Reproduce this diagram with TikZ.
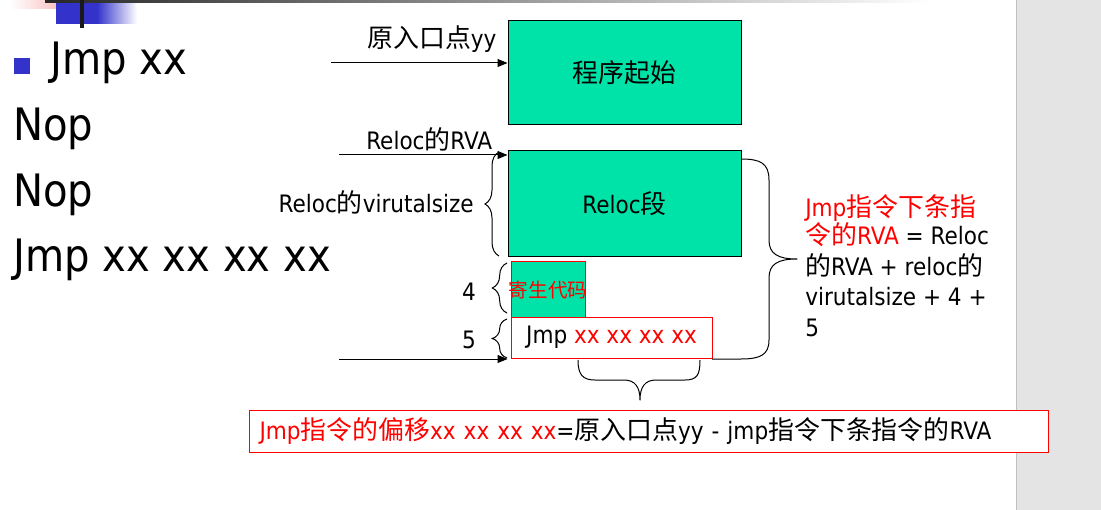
\documentclass[tikz,border=0pt]{standalone}
\usepackage{fontspec}
\setmainfont{DejaVu Sans Condensed}
\newfontfamily\cjk[Scale=1.08]{Noto Sans CJK SC}
\newcommand\zh[1]{{\cjk #1}}
\usetikzlibrary{arrows.meta,decorations.pathreplacing}
\definecolor{boxgreen}{RGB}{0,227,168}
\definecolor{bulletblue}{RGB}{51,51,204}
\definecolor{stripgray}{RGB}{228,228,228}
\definecolor{stripline}{RGB}{192,192,192}
\definecolor{pinkish}{RGB}{248,176,176}
\tikzset{
 txt/.style={inner sep=0pt, anchor=base west, font=\fontsize{18}{22}\selectfont},
 big/.style={inner sep=0pt, anchor=base west, font=\fontsize{33.5}{40}\selectfont},
 gbox/.style={draw=black, fill=boxgreen, line width=0.75pt, inner sep=0pt, font=\fontsize{18}{22}\selectfont},
 rbox/.style={draw=red, line width=0.75pt, inner sep=0pt, font=\fontsize{18}{22}\selectfont},
 arr/.style={line width=0.75pt, -{Triangle[length=7.5pt,width=6pt]}},
 lbrace/.style={decorate, decoration={brace, amplitude=#1}, line width=0.75pt},
 curly/.style={line width=0.75pt, line join=round},
}
\begin{document}
\begin{tikzpicture}[x=0.75pt,y=-0.75pt]
\useasboundingbox (0,0) rectangle (1101,510);
% background decorations
\fill[stripgray] (1016,0) rectangle (1101,510);
\draw[stripline, line width=1.2pt] (1016.5,0) -- (1016.5,510);
\shade[left color=white, right color=pinkish] (10,0) rectangle (72,9);
\fill[bulletblue] (56,2) rectangle (97,24);
\shade[left color=bulletblue, right color=white] (97,2) rectangle (137,24);
\shade[left color=black!85, right color=white] (45,0) rectangle (930,3);
\fill[black!90] (80,0) rectangle (84,28);

% left column
\fill[bulletblue] (14,58) rectangle (30,74);
\node[big] (l1) at (50,75) {Jmp xx};
\node[big] (l2) at (13,141) {Nop};
\node[big] (l3) at (13,206) {Nop};
\node[big] (l4) at (13,271) {Jmp xx xx xx xx};

% boxes
\node[gbox, minimum width=174.75pt, minimum height=78pt] (start) at (624.5,73) {\zh{程序起始}};
\node[gbox, minimum width=174.75pt, minimum height=78.75pt] (reloc) at (624.5,203.5) {Reloc\zh{段}};
\node[rbox, fill=boxgreen, minimum width=55.5pt, minimum height=42pt] (para) at (548,289) {};
\node[inner sep=0pt, text=red, font=\fontsize{13.6}{17}\selectfont] (paratext) at (548,290) {\zh{寄生代码}};
\node[rbox, fill=white, minimum width=150.75pt, minimum height=30.75pt] (jmp) at (611.5,337.5) {Jmp \textcolor{red}{xx xx xx xx}};
\node[rbox, fill=white, anchor=west, text width=584.25pt, inner xsep=7.5pt, minimum height=31.5pt, align=left] (formula) at (249,431)
  {\textcolor{red}{Jmp\zh{指令的偏移}xx xx xx xx}=\zh{原入口点}yy - jmp\zh{指令下条指令的}RVA};

% arrows
\coordinate (e1) at (331,63);
\draw[arr] (e1) -- (e1 -| start.west);
\coordinate (e2) at (339,155);
\draw[arr] (e2) -- (e2 -| reloc.west);
\coordinate (e3) at (339,359);
\draw[arr] (e3) -- (e3 -| reloc.west);

% labels
\node[txt] (lblentry) at (367,48) {\zh{原入口点}yy};
\node[txt] (lblrva) at (366,150) {Reloc\zh{的}RVA};
\node[txt, anchor=base east] (lblvs) at (474,213) {Reloc\zh{的}virutalsize};
\node[txt, anchor=base east] (lbl4) at (476,300) {4};
\node[txt, anchor=base east] (lbl5) at (476,348) {5};

% left braces
\draw[lbrace=10.5pt] (499,256) -- (499,152);
\draw[lbrace=11pt] (507,313) -- (507,263);
\draw[lbrace=11pt] (507,358) -- (507,319);

% right brace
\draw[curly] (741,159) .. controls (760,159) and (769,163) .. (769,180) -- (769,240)
  .. controls (769,254) and (778,259) .. (797,259)
  .. controls (778,259) and (769,264) .. (769,278) -- (769,340)
  .. controls (769,355) and (760,359) .. (741,359) -- (712,359);

% bottom brace
\draw[curly] (578,360) .. controls (578,375) and (583,380) .. (595,380) -- (624,380)
  .. controls (635,380) and (640,387) .. (640,400)
  .. controls (640,387) and (645,380) .. (656,380) -- (685,380)
  .. controls (697,380) and (700,375) .. (700,360);

% right text
\node[txt, text=red] (rt1) at (805,216) {Jmp\zh{指令下条指}};
\node[txt] (rt2) at (805,244) {\textcolor{red}{\zh{令的}RVA} = Reloc};
\node[txt] (rt3) at (805,275) {\zh{的}RVA + reloc\zh{的}};
\node[txt] (rt4) at (805,305) {virutalsize + 4 +};
\node[txt] (rt5) at (805,336) {5};
\end{tikzpicture}
\end{document}
